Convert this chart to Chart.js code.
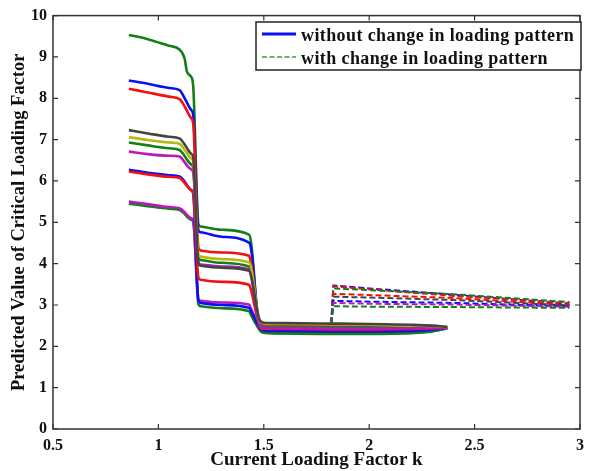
<!DOCTYPE html>
<html>
<head>
<meta charset="utf-8">
<script src="https://cdn.jsdelivr.net/npm/chart.js@4.4.1/dist/chart.umd.min.js"></script>
<style>
  html, body { margin: 0; padding: 0; background: #fff; }
  #wrap { width: 591px; height: 471px; position: relative; }
</style>
</head>
<body>
<div id="wrap"><canvas id="chart"></canvas></div>
<script>
// x positions shared by the "without change" curves
const solidX = [0.86, 0.95, 1.05, 1.1, 1.125, 1.135, 1.155, 1.165, 1.19, 1.2, 1.3, 1.43, 1.44, 1.48, 1.5, 1.6, 1.82, 2.0, 2.2, 2.3, 2.37];

// without change in loading pattern (solid)
const solidGreenTop = [9.53, 9.43, 9.27, 9.18, 8.95, 8.65, 8.52, 8.30, 4.95, 4.90, 4.82, 4.70, 4.50, 2.40, 2.33, 2.31, 2.30, 2.30, 2.32, 2.36, 2.44];
const solidBlueTop = [8.43, 8.35, 8.25, 8.20, 8.00, 7.90, 7.72, 7.60, 4.80, 4.76, 4.65, 4.51, 4.35, 2.45, 2.38, 2.37, 2.36, 2.36, 2.37, 2.40, 2.45];
const solidRedTop = [8.23, 8.14, 8.04, 7.98, 7.80, 7.70, 7.52, 7.40, 4.38, 4.32, 4.27, 4.19, 4.00, 2.58, 2.51, 2.50, 2.49, 2.49, 2.48, 2.47, 2.46];
const solidGray = [7.23, 7.15, 7.07, 7.03, 6.88, 6.80, 6.66, 6.58, 4.00, 3.95, 3.90, 3.83, 3.70, 2.64, 2.57, 2.56, 2.55, 2.54, 2.52, 2.50, 2.47];
const solidOlive = [7.06, 6.99, 6.93, 6.90, 6.75, 6.68, 6.55, 6.47, 4.22, 4.17, 4.11, 4.03, 3.90, 2.62, 2.55, 2.54, 2.53, 2.52, 2.50, 2.49, 2.47];
const solidGreenMid = [6.93, 6.86, 6.79, 6.75, 6.60, 6.52, 6.40, 6.32, 4.13, 4.09, 4.02, 3.93, 3.80, 2.54, 2.47, 2.47, 2.46, 2.46, 2.46, 2.46, 2.46];
const solidMagentaMid = [6.71, 6.65, 6.61, 6.59, 6.45, 6.38, 6.28, 6.22, 4.02, 3.98, 3.93, 3.86, 3.70, 2.51, 2.44, 2.44, 2.43, 2.43, 2.43, 2.44, 2.45];
const solidBlueLow = [6.27, 6.20, 6.14, 6.11, 5.98, 5.90, 5.78, 5.70, 3.10, 3.05, 3.00, 2.93, 2.85, 2.45, 2.38, 2.37, 2.36, 2.36, 2.37, 2.40, 2.45];
const solidRedLow = [6.23, 6.16, 6.10, 6.07, 5.95, 5.88, 5.78, 5.72, 3.66, 3.61, 3.56, 3.49, 3.35, 2.49, 2.42, 2.42, 2.41, 2.41, 2.42, 2.43, 2.45];
const solidMagentaLow = [5.50, 5.44, 5.37, 5.34, 5.24, 5.18, 5.10, 5.06, 3.14, 3.10, 3.06, 3.01, 2.90, 2.47, 2.40, 2.40, 2.39, 2.39, 2.40, 2.42, 2.45];
const solidGreenLow = [5.45, 5.39, 5.33, 5.30, 5.20, 5.14, 5.06, 5.02, 3.01, 2.97, 2.92, 2.85, 2.75, 2.40, 2.33, 2.32, 2.31, 2.31, 2.33, 2.37, 2.44];

// x positions for the "with change" curves
const dashedX = [1.82, 1.83, 2.0, 2.4, 2.95];

// with change in loading pattern (dashed)
const dashedBlueTop = [2.55, 3.47, 3.40, 3.25, 3.02];
const dashedRedTop = [2.55, 3.45, 3.38, 3.22, 3.05];
const dashedGreenTop = [2.55, 3.40, 3.36, 3.26, 3.07];
const dashedRedMid = [2.55, 3.27, 3.24, 3.17, 3.00];
const dashedGray = [2.55, 3.20, 3.18, 3.12, 2.99];
const dashedBlueLow = [2.55, 3.10, 3.08, 3.05, 2.97];
const dashedMagenta = [2.55, 3.05, 3.03, 3.01, 2.96];
const dashedGreenLow = [2.55, 2.97, 2.96, 2.95, 2.93];

const xTickLabels = ['0.5', '1', '1.5', '2', '2.5', '3'];
const yTickLabels = ['0', '1', '2', '3', '4', '5', '6', '7', '8', '9', '10'];
const legendLabels = ['without change in loading pattern', 'with change in loading pattern'];

const BLUE = '#0a10f5';
const GREEN = '#137f17';
const RED = '#f51010';
const GRAY = '#444444';
const OLIVE = '#b8b80e';
const MAGENTA = '#b818c0';
const SERIF = '"Liberation Serif", "Times New Roman", serif';

function toPoints(xs, ys) {
  return xs.map((x, i) => ({ x: x, y: ys[i] }));
}

function solid(ys, color) {
  return {
    data: toPoints(solidX, ys),
    borderColor: color,
    borderWidth: 2.6,
    pointRadius: 0,
    cubicInterpolationMode: 'monotone',
    fill: false,
  };
}

function dashed(ys, color) {
  return {
    data: toPoints(dashedX, ys),
    borderColor: color,
    borderWidth: 2,
    borderDash: [6, 3],
    pointRadius: 0,
    tension: 0,
    fill: false,
  };
}

const datasets = [
  dashed(dashedGreenLow, GREEN),
  dashed(dashedMagenta, MAGENTA),
  dashed(dashedBlueLow, BLUE),
  dashed(dashedGray, GRAY),
  dashed(dashedRedMid, RED),
  dashed(dashedGreenTop, GREEN),
  dashed(dashedRedTop, RED),
  dashed(dashedBlueTop, BLUE),
  solid(solidGray, GRAY),
  solid(solidOlive, OLIVE),
  solid(solidMagentaMid, MAGENTA),
  solid(solidGreenMid, GREEN),
  solid(solidRedLow, RED),
  solid(solidBlueLow, BLUE),
  solid(solidMagentaLow, MAGENTA),
  solid(solidGreenLow, GREEN),
  solid(solidRedTop, RED),
  solid(solidBlueTop, BLUE),
  solid(solidGreenTop, GREEN),
];

// Frame around the plot with inward ticks on all four sides
const framePlugin = {
  id: 'frame',
  afterDraw(chart) {
    const { ctx, chartArea: a, scales } = chart;
    ctx.save();
    ctx.strokeStyle = '#333';
    ctx.lineWidth = 1.5;
    ctx.strokeRect(a.left, a.top, a.right - a.left, a.bottom - a.top);
    ctx.lineWidth = 1.2;
    ctx.beginPath();
    scales.x.ticks.forEach((t) => {
      const px = scales.x.getPixelForValue(t.value);
      ctx.moveTo(px, a.bottom);
      ctx.lineTo(px, a.bottom - 5);
      ctx.moveTo(px, a.top);
      ctx.lineTo(px, a.top + 5);
    });
    scales.y.ticks.forEach((t) => {
      const py = scales.y.getPixelForValue(t.value);
      ctx.moveTo(a.left, py);
      ctx.lineTo(a.left + 5, py);
      ctx.moveTo(a.right, py);
      ctx.lineTo(a.right - 5, py);
    });
    ctx.stroke();
    ctx.restore();
  },
};

// Legend box in the top right corner
const legendPlugin = {
  id: 'boxLegend',
  afterDraw(chart) {
    const { ctx } = chart;
    ctx.save();
    ctx.fillStyle = '#fff';
    ctx.fillRect(256, 22, 325, 48);
    ctx.strokeStyle = '#222';
    ctx.lineWidth = 1.5;
    ctx.strokeRect(256, 22, 325, 48);

    ctx.strokeStyle = BLUE;
    ctx.lineWidth = 3;
    ctx.beginPath();
    ctx.moveTo(262, 34);
    ctx.lineTo(296, 34);
    ctx.stroke();

    ctx.strokeStyle = '#3a9a3a';
    ctx.lineWidth = 1.5;
    ctx.setLineDash([5, 2.5]);
    ctx.beginPath();
    ctx.moveTo(262, 57);
    ctx.lineTo(296, 57);
    ctx.stroke();
    ctx.setLineDash([]);

    ctx.fillStyle = '#111';
    ctx.font = 'bold 18px ' + SERIF;
    ctx.letterSpacing = '0.4px';
    ctx.textBaseline = 'middle';
    ctx.fillText(legendLabels[0], 301, 36);
    ctx.fillText(legendLabels[1], 301, 59);
    ctx.restore();
  },
};

new Chart(document.getElementById('chart'), {
  type: 'line',
  data: { datasets },
  options: {
    responsive: true,
    maintainAspectRatio: false,
    animation: false,
    layout: { padding: { top: 15, right: 6, left: 0, bottom: 0 } },
    plugins: {
      legend: { display: false },
      tooltip: { enabled: false },
    },
    scales: {
      x: {
        type: 'linear',
        min: 0.5,
        max: 3,
        border: { display: false },
        grid: { display: false, drawTicks: false },
        ticks: {
          stepSize: 0.5,
          padding: 7,
          color: '#111',
          maxRotation: 0,
          font: { family: SERIF, weight: 'bold', size: 16 },
          callback: (v, i) => xTickLabels[i],
        },
        title: {
          display: true,
          text: 'Current Loading Factor k',
          color: '#111',
          font: { family: SERIF, weight: 'bold', size: 19 },
          padding: { top: 4, bottom: 0 },
        },
        afterFit: (scale) => { scale.height = 42; },
      },
      y: {
        min: 0,
        max: 10,
        border: { display: false },
        grid: { display: false, drawTicks: false },
        ticks: {
          stepSize: 1,
          padding: 6,
          color: '#111',
          font: { family: SERIF, weight: 'bold', size: 16 },
          callback: (v, i) => yTickLabels[i],
        },
        title: {
          display: true,
          text: 'Predicted Value of Critical Loading Factor',
          color: '#111',
          font: { family: SERIF, weight: 'bold', size: 18.5 },
          padding: { top: 8, bottom: 0 },
        },
        afterFit: (scale) => { scale.width = 53; },
      },
    },
  },
  plugins: [framePlugin, legendPlugin],
});
</script>
</body>
</html>
